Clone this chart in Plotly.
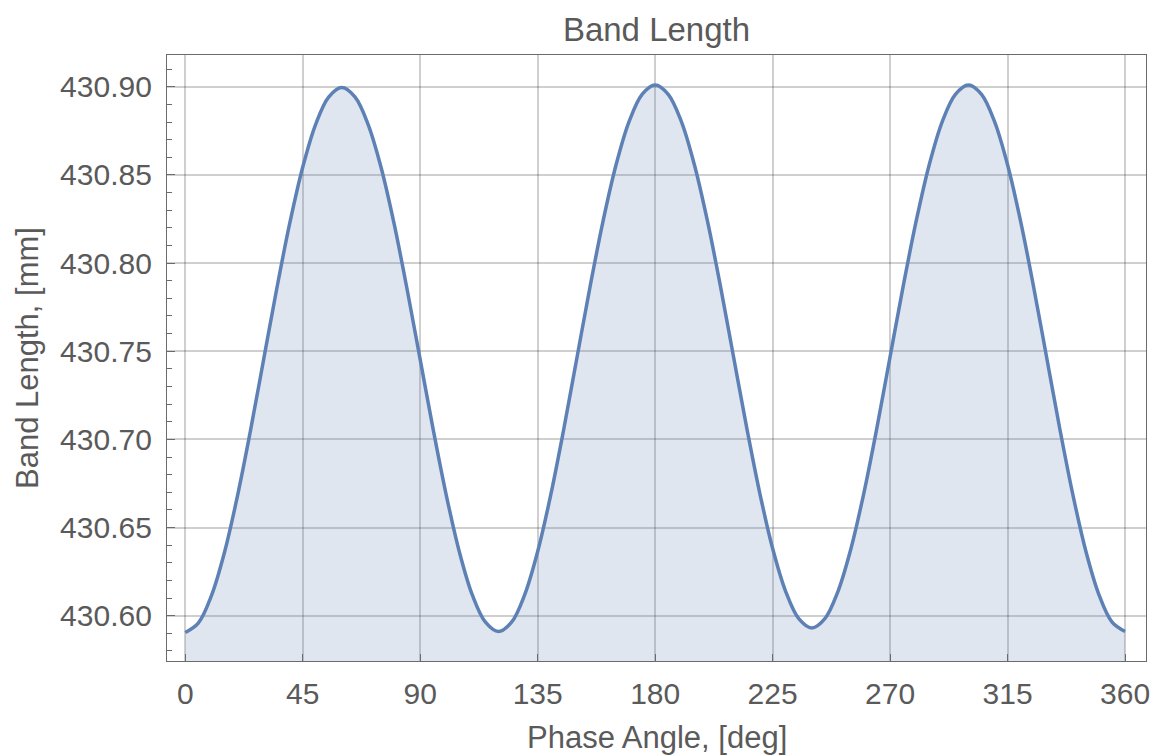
import plotly.graph_objects as go

# Phase angle in degrees
phase_deg = list(range(0, 365, 5))

# Band length in mm at 5-degree steps
band_length_mm = [
    # 0 .. 60
    430.5905, 430.5958, 430.6112, 430.6357, 430.6678, 430.7050, 430.7450,
    430.7850, 430.8223, 430.8543, 430.8788, 430.8942, 430.8995,
    # 65 .. 120
    430.8942, 430.8788, 430.8543, 430.8223, 430.7850, 430.7452,
    430.7054, 430.6683, 430.6362, 430.6116, 430.5963, 430.5910,
    # 125 .. 180
    430.5963, 430.6118, 430.6364, 430.6685, 430.7059, 430.7460,
    430.7861, 430.8235, 430.8556, 430.8802, 430.8957, 430.9010,
    # 185 .. 240
    430.8957, 430.8804, 430.8559, 430.8240, 430.7869, 430.7470,
    430.7071, 430.6700, 430.6381, 430.6137, 430.5983, 430.5930,
    # 245 .. 300
    430.5983, 430.6137, 430.6381, 430.6700, 430.7071, 430.7470,
    430.7869, 430.8240, 430.8559, 430.8804, 430.8957, 430.9010,
    # 305 .. 360
    430.8957, 430.8802, 430.8556, 430.8235, 430.7861, 430.7460,
    430.7059, 430.6685, 430.6364, 430.6118, 430.5963, 430.5910,
]

x_ticks = [0, 45, 90, 135, 180, 225, 270, 315, 360]
y_ticks = [430.60, 430.65, 430.70, 430.75, 430.80, 430.85, 430.90]

title_text = "Band Length"
x_label = "Phase Angle, [deg]"
y_label = "Band Length, [mm]"

LINE = "#5E81B5"
TEXT = "#5a5a5a"
FRAME = "#6b6b6b"
GRID = "rgba(0,0,0,0.19)"
FONT = "Liberation Sans, Arial, sans-serif"

fig = go.Figure()
fig.add_trace(go.Scatter(
    x=phase_deg, y=band_length_mm, mode="lines",
    line=dict(color=LINE, width=3.5, shape="spline", smoothing=1.0),
    fill="tozeroy", fillcolor="rgba(94,129,181,0.2)",
    hoverinfo="skip", showlegend=False,
))

axis_common = dict(
    showline=True, linecolor=FRAME, linewidth=1.3, mirror=True,
    showgrid=True, gridcolor=GRID, gridwidth=2,
    zeroline=False,
    ticks="inside", tickcolor=FRAME, tickwidth=1.3,
    tickfont=dict(family=FONT, size=30, color=TEXT),
)

fig.update_layout(
    width=1156, height=755,
    margin=dict(l=167, r=6, t=55, b=94),
    paper_bgcolor="white", plot_bgcolor="white",
    font=dict(family=FONT, color=TEXT),
    title=dict(text=title_text, x=0.5, xref="paper", xanchor="center",
               y=(755 - 29) / 755, yref="container", yanchor="middle",
               font=dict(family=FONT, size=33, color=TEXT)),
    xaxis=dict(
        range=[-6.98, 368.0], tickmode="array", tickvals=x_ticks,
        ticktext=[str(v) for v in x_ticks], ticklen=7,
        ticklabelstandoff=6,
        **axis_common,
    ),
    yaxis=dict(
        range=[430.5743, 430.918], tickmode="array", tickvals=y_ticks,
        ticktext=[f"{v:.2f}" for v in y_ticks], ticklen=8,
        ticklabelstandoff=8,
        minor=dict(dtick=0.01, tick0=430.60, ticks="inside", ticklen=5,
                   tickcolor=FRAME, tickwidth=1.2, showgrid=False),
        **axis_common,
    ),
    annotations=[
        dict(text=x_label, xref="paper", yref="paper", x=0.5, y=0,
             xanchor="center", yanchor="middle", yshift=-76, showarrow=False,
             font=dict(family=FONT, size=31, color=TEXT)),
        dict(text=y_label, xref="paper", yref="paper", x=0, y=0.5,
             xanchor="center", yanchor="middle", xshift=-140, textangle=-90,
             showarrow=False, font=dict(family=FONT, size=31, color=TEXT)),
    ],
)

fig.write_html("out.html")
